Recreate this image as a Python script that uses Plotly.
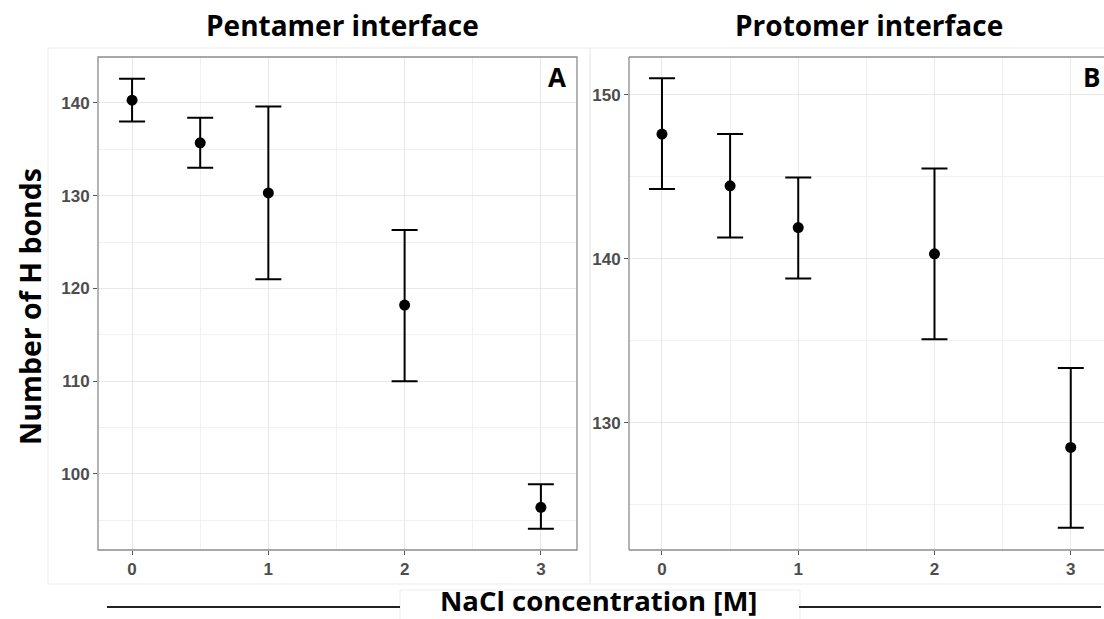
import plotly.graph_objects as go

nacl = [0, 0.5, 1, 2, 3]
pent_mean = [140.3, 135.7, 130.3, 118.2, 96.4]
pent_hi = [142.6, 138.4, 139.6, 126.3, 98.9]
pent_lo = [138.0, 133.0, 121.0, 110.0, 94.1]
prot_mean = [147.6, 144.45, 141.9, 140.3, 128.5]
prot_hi = [151.0, 147.6, 144.95, 145.5, 133.35]
prot_lo = [144.25, 141.3, 138.8, 135.1, 123.6]

W, H = 1104, 619
fig = go.Figure()

def add_series(mean, hi, lo, xa, ya):
    fig.add_trace(go.Scatter(
        x=nacl, y=mean, mode="markers", xaxis=xa, yaxis=ya,
        marker=dict(color="black", size=11),
        error_y=dict(type="data", symmetric=False,
                     array=[h - m for h, m in zip(hi, mean)],
                     arrayminus=[m - l for m, l in zip(mean, lo)],
                     color="black", thickness=2, width=13),
        showlegend=False, cliponaxis=False))

add_series(pent_mean, pent_hi, pent_lo, "x", "y")
add_series(prot_mean, prot_hi, prot_lo, "x2", "y2")

ydom = [1 - 550 / H, 1 - 57 / H]
tickfont = dict(family="Liberation Sans, Arial", size=17, color="#4d4d4d", weight="bold")
axcommon = dict(showgrid=True, gridcolor="#e8e8e8", gridwidth=1.3, zeroline=False,
                ticks="outside", ticklen=4, tickcolor="#555555", tickwidth=1,
                tickfont=tickfont, showline=False)
minor_x = dict(showgrid=True, gridcolor="#f1f1f1", gridwidth=1, tickvals=[0.5, 1.5, 2.5])

fig.update_layout(
    width=W, height=H, margin=dict(l=0, r=0, t=0, b=0),
    paper_bgcolor="white", plot_bgcolor="white",
    xaxis=dict(domain=[98 / W, 577 / W], range=[-0.25, 3.265], tickvals=[0, 1, 2, 3],
               anchor="y", minor=minor_x, **axcommon),
    yaxis=dict(domain=ydom, range=[91.8, 144.95], tickvals=[100, 110, 120, 130, 140],
               anchor="x", minor=dict(showgrid=True, gridcolor="#f1f1f1", gridwidth=1,
                                      tickvals=[95, 105, 115, 125, 135]), **axcommon),
    xaxis2=dict(domain=[629 / W, 1.0], range=[-0.242, 3.244], tickvals=[0, 1, 2, 3],
                anchor="y2", minor=minor_x, **axcommon),
    yaxis2=dict(domain=ydom, range=[122.25, 152.3], tickvals=[130, 140, 150],
                anchor="x2", minor=dict(showgrid=True, gridcolor="#f1f1f1", gridwidth=1,
                                        tickvals=[125, 135, 145]), **axcommon),
)

def px(x):
    return x / W

def py(y):
    return 1 - y / H

shapes = []
# faint outer plot backgrounds
shapes.append(dict(type="rect", xref="paper", yref="paper", x0=px(48), x1=px(590), y0=py(584), y1=py(48),
                   line=dict(color="#ececec", width=1), layer="below"))
shapes.append(dict(type="rect", xref="paper", yref="paper", x0=px(590), x1=px(1110), y0=py(584), y1=py(48),
                   line=dict(color="#ececec", width=1), layer="below"))
# panel borders
shapes.append(dict(type="rect", xref="x domain", yref="y domain", x0=0, x1=1, y0=0, y1=1,
                   line=dict(color="#8c8c8c", width=1.3)))
for (x0, y0, x1, y1) in [(0, 0, 0, 1), (0, 0, 1.01, 0), (0, 1, 1.01, 1)]:
    shapes.append(dict(type="line", xref="x2 domain", yref="y2 domain", x0=x0, x1=x1, y0=y0, y1=y1,
                       line=dict(color="#8c8c8c", width=1.3)))
# x-axis title box and lines
shapes.append(dict(type="rect", xref="paper", yref="paper", x0=px(400), x1=px(800), y0=py(625), y1=py(590),
                   line=dict(color="#ececec", width=1), fillcolor="white"))
shapes.append(dict(type="line", xref="paper", yref="paper", x0=px(107), x1=px(400), y0=py(607), y1=py(607),
                   line=dict(color="#222222", width=2)))
shapes.append(dict(type="line", xref="paper", yref="paper", x0=px(799), x1=px(1101), y0=py(607), y1=py(607),
                   line=dict(color="#222222", width=2)))
fig.update_layout(shapes=shapes)

bold = lambda s: dict(family="Open Sans", size=s, color="black", weight="bold")
ann = [
    dict(text="Pentamer interface", x=px(342), y=py(25), font=bold(28)),
    dict(text="Protomer interface", x=px(869), y=py(25), font=bold(28)),
    dict(text="A", x=px(557), y=py(77), font=bold(26)),
    dict(text="B", x=px(1091), y=py(77), font=bold(26)),
    dict(text="NaCl concentration [M]", x=px(598), y=py(600), font=bold(27.5)),
    dict(text="Number of H bonds", x=px(30), y=py(307), textangle=-90, font=bold(28.5)),
]
for a in ann:
    a.update(xref="paper", yref="paper", showarrow=False, xanchor="center", yanchor="middle")
fig.update_layout(annotations=ann)

fig.write_html("out.html")
